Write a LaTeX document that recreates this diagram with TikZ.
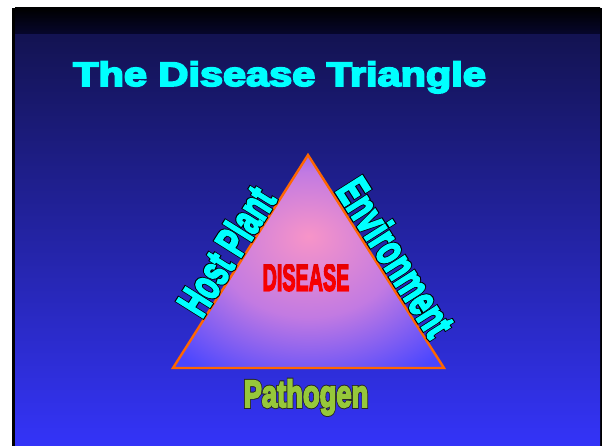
\documentclass[tikz,border=0pt]{standalone}
\usepackage{fontspec}
\setmainfont{Liberation Sans}
\newfontfamily\ringface{Liberation Sans Bold}[FakeBold=10]
\newfontfamily\heavyface{Liberation Sans Bold}[FakeBold=5]
\usetikzlibrary{fadings}

\definecolor{bandtop}{HTML}{000000}
\definecolor{bandbottom}{HTML}{07072E}
\definecolor{navytop}{HTML}{131352}
\definecolor{bluebottom}{HTML}{3434F8}
\definecolor{titlecyan}{HTML}{00FFFF}
\definecolor{germgreen}{HTML}{96C83A}
\definecolor{edgeorange}{HTML}{FF6600}
\definecolor{glowpink}{HTML}{F794C8}
\definecolor{glowmid}{HTML}{C27AE2}
\definecolor{glowblue}{HTML}{4A46FF}

% pink glow in the middle of the triangle
\pgfdeclareradialshading{triangleglow}{\pgfpoint{0bp}{6bp}}{%
  color(0bp)=(glowpink); color(17bp)=(glowmid); color(34bp)=(glowblue); color(50bp)=(glowblue)}

% black rim under coloured letters
\newcommand{\ringed}[2]{\rlap{\ringface\color{#1}#2}#2}

\tikzset{
  heading/.style={text=titlecyan, font=\heavyface\fontsize{34}{40}\selectfont,
    xscale=1.22, inner sep=0pt, anchor=base west},
  sidelabel/.style={text=titlecyan, font=\heavyface\fontsize{44}{46}\selectfont,
    inner sep=0pt},
  baselabel/.style={text=germgreen, font=\heavyface\fontsize{38}{42}\selectfont,
    xscale=0.72, inner sep=0pt, anchor=base},
  triedge/.style={draw=edgeorange, line width=2.4pt, line join=miter},
}

\begin{tikzfadingfrompicture}[name=diseasefade]
  \node[text=transparent!0, font=\heavyface\fontsize{38}{42}\selectfont, xscale=0.52, inner sep=0pt] {DISEASE};
\end{tikzfadingfrompicture}

\begin{document}
\begin{tikzpicture}[x=1pt, y=-1pt]
  \useasboundingbox (0,0) rectangle (602,446);
  % frame and background
  \fill[black] (12,8) rectangle (602,446);
  \shade[top color=bandtop, bottom color=bandbottom] (15,8) rectangle (600,35);
  \shade[top color=navytop, bottom color=bluebottom] (15,35) rectangle (600,446);

  \node[heading] (title) at (73,86) {The Disease Triangle};

  % the triangle
  \coordinate (apex) at (308,155);
  \coordinate (host) at (173,368);
  \coordinate (env) at (444,368);
  \shade[shading=triangleglow] (apex) -- (host) -- (env) -- cycle;
  \draw[triedge] (apex) -- (host) -- (env) -- cycle;

  % labels on the sides
  \node[sidelabel, rotate=57.8, xscale=0.65] (hostplant) at (226,251) {\ringed{black}{Host Plant}};
  \node[sidelabel, rotate=-57.6, xscale=0.66] (environment) at (396,257) {\ringed{black}{Environment}};
  \node[baselabel] (pathogen) at (306,407) {\ringed{black!85}{Pathogen}};

  % red text in the middle
  \shade[path fading=diseasefade, fit fading=false, fading transform={shift={(306,277.5)}},
    top color=red!90!black, middle color=red!45!black, bottom color=red]
    (256,260) rectangle (356,295);
  \coordinate (disease) at (306,277.5);
\end{tikzpicture}
\end{document}
